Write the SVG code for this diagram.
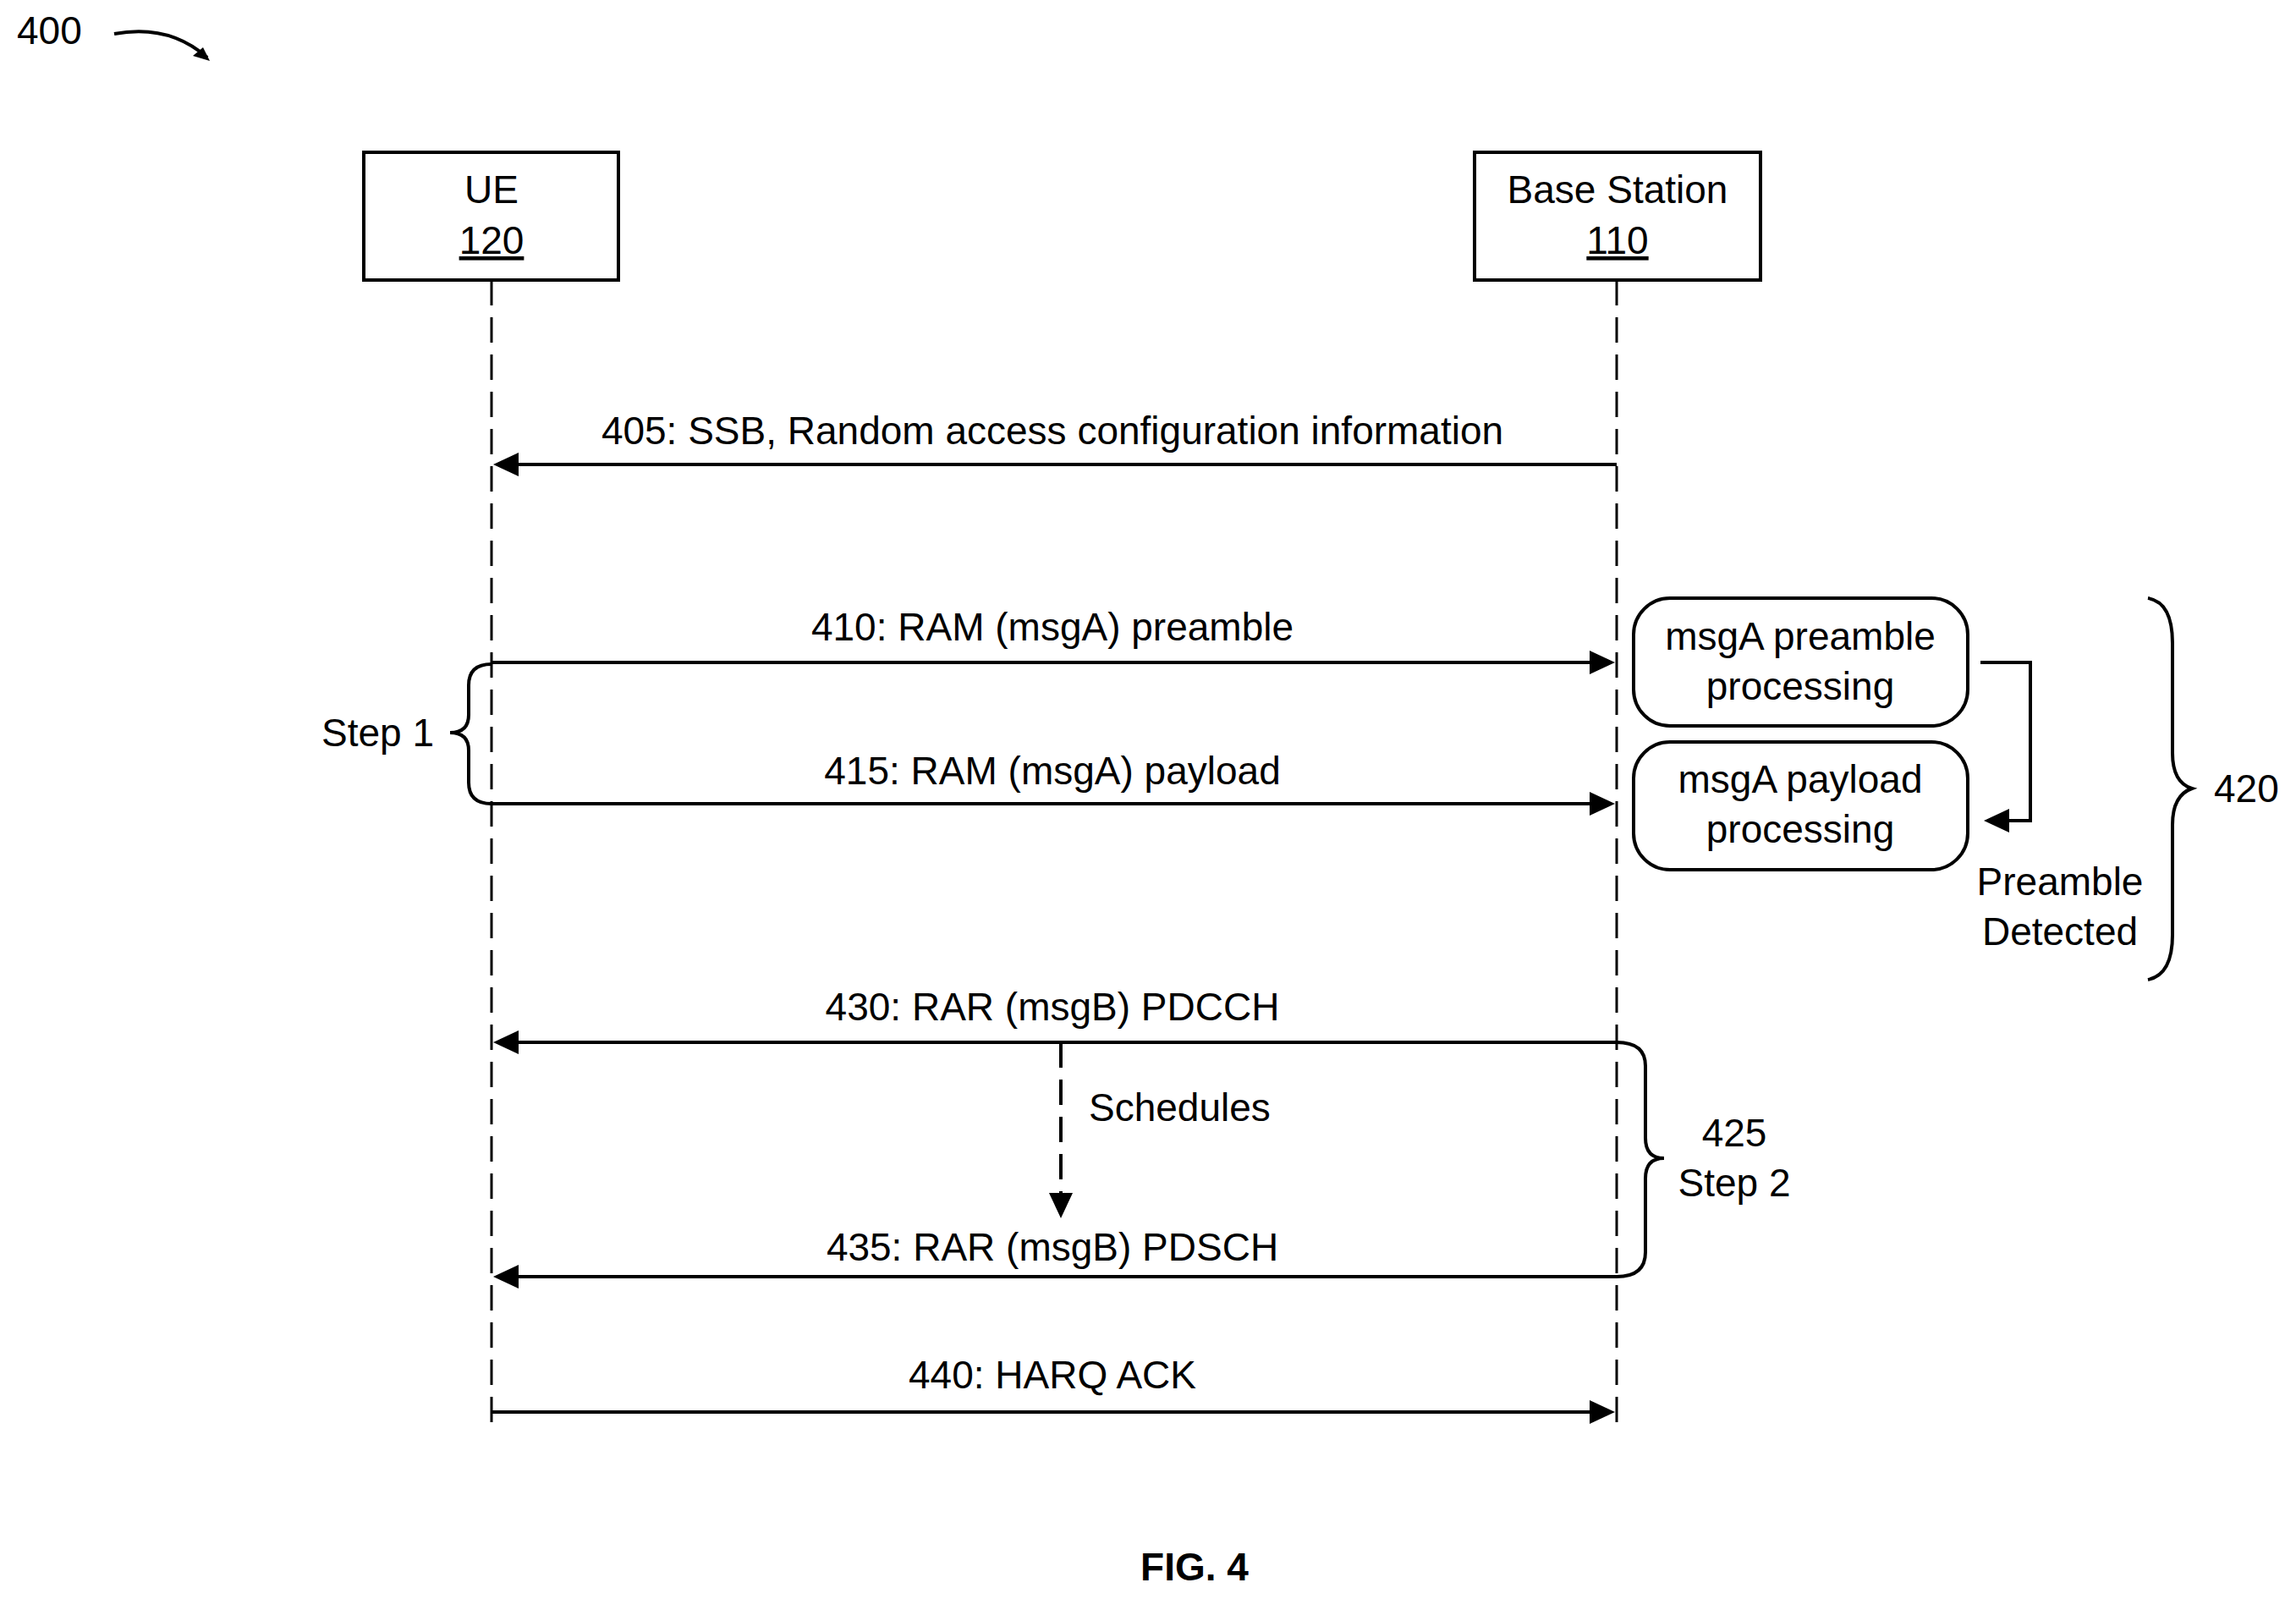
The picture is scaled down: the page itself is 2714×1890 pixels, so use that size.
<svg xmlns="http://www.w3.org/2000/svg" width="2714" height="1890" viewBox="0 0 2714 1890">
<style>
text{font-family:"Liberation Sans",Arial,sans-serif;font-size:46px;fill:#000}
.m{text-anchor:middle}
.ln{stroke:#000;stroke-width:4;fill:none}
.ll{stroke:#000;stroke-width:3;fill:none;stroke-dasharray:30 14}
</style>
<defs>
<marker id="a" viewBox="0 0 10 10" refX="10" refY="5" markerWidth="7" markerHeight="7" markerUnits="userSpaceOnUse" orient="auto" style="overflow:visible">
<path d="M0,0 L10,5 L0,10 Z" fill="#000" transform="scale(3.2)" />
</marker>
</defs>
<rect width="2714" height="1890" fill="#fff"/>
<text x="20" y="52">400</text>
<path class="ln" d="M135,40 Q200,28 245,68" stroke-width="3"/>
<path d="M248,72 L228,66 L240,56 Z" fill="#000"/>
<g id="ue"><rect x="430" y="180" width="301" height="151" class="ln"/>
<text x="581" y="240" class="m">UE</text><text x="581" y="300" class="m" text-decoration="underline">120</text></g>
<g id="bs"><rect x="1743" y="180" width="338" height="151" class="ln"/>
<text x="1912" y="240" class="m">Base Station</text><text x="1912" y="300" class="m" text-decoration="underline">110</text></g>
<g id="p1"><rect x="1931" y="707" width="395" height="151" rx="43" class="ln"/>
<text x="2128" y="768" class="m">msgA preamble</text><text x="2128" y="827" class="m">processing</text></g>
<g id="p2"><rect x="1931" y="877" width="395" height="151" rx="43" class="ln"/>
<text x="2128" y="937" class="m">msgA payload</text><text x="2128" y="996" class="m">processing</text></g>
<g id="connectors">
<line class="ll" x1="581" y1="331" x2="581" y2="1685"/>
<line class="ll" x1="1911" y1="331" x2="1911" y2="1685"/>
<path d="M1911,549 H588" class="ln"/><path d="M583,549 l30,-14 v28 z" fill="#000"/>
<path d="M581,783 H1880" class="ln"/><path d="M1909,783 l-30,-14 v28 z" fill="#000"/>
<path d="M581,950 H1880" class="ln"/><path d="M1909,950 l-30,-14 v28 z" fill="#000"/>
<path d="M1911,1232 H588" class="ln"/><path d="M583,1232 l30,-14 v28 z" fill="#000"/>
<path d="M1911,1509 H588" class="ln"/><path d="M583,1509 l30,-14 v28 z" fill="#000"/>
<path d="M581,1669 H1880" class="ln"/><path d="M1909,1669 l-30,-14 v28 z" fill="#000"/>
<path d="M1254,1232 V1410" class="ln" stroke-dasharray="30 14"/><path d="M1254,1440 l-14,-30 h28 z" fill="#000"/>
<path d="M2341,783 H2400 V970 H2375" class="ln"/><path d="M2345,970 l30,-14 v28 z" fill="#000"/>
<path class="ln" d="M581,785 Q554,785 554,810 V845 Q554,866 532,866 Q554,866 554,887 V925 Q554,950 581,950"/>
<path class="ln" d="M1911,1232 Q1945,1232 1945,1260 V1345 Q1945,1369 1967,1369 Q1945,1369 1945,1393 V1480 Q1945,1509 1911,1509"/>
<path class="ln" d="M2539,707 Q2568,712 2568,760 V890 Q2568,925 2591,932 Q2568,940 2568,975 V1105 Q2568,1152 2539,1158"/>
</g>
<text x="1244" y="525" class="m">405: SSB, Random access configuration information</text>
<text x="1244" y="757" class="m">410: RAM (msgA) preamble</text>
<text x="1244" y="927" class="m">415: RAM (msgA) payload</text>
<text x="1244" y="1206" class="m">430: RAR (msgB) PDCCH</text>
<text x="1287" y="1325">Schedules</text>
<text x="1244" y="1490" class="m">435: RAR (msgB) PDSCH</text>
<text x="1244" y="1641" class="m">440: HARQ ACK</text>
<text x="513" y="882" text-anchor="end">Step 1</text>
<text x="2050" y="1355" class="m">425</text>
<text x="2050" y="1414" class="m">Step 2</text>
<text x="2617" y="948">420</text>
<text x="2435" y="1058" class="m">Preamble</text>
<text x="2435" y="1117" class="m">Detected</text>
<text x="1412" y="1868" class="m" font-weight="bold" font-size="70">FIG. 4</text>
</svg>
